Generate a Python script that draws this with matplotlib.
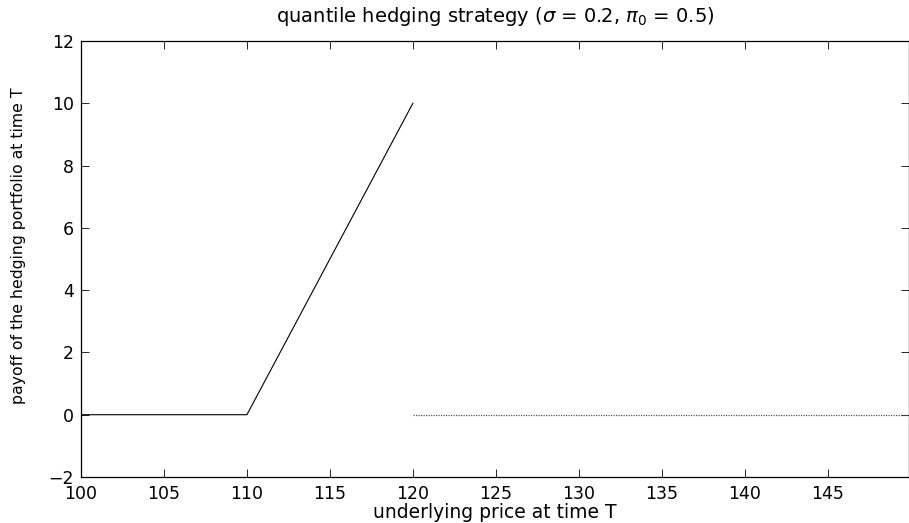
#!/usr/bin/env python3
"""Quantile hedging payoff chart."""

import matplotlib

matplotlib.use("Agg")
import matplotlib.pyplot as plt

# payoff of the hedging portfolio (solid part)
price_solid = [100, 110, 120]
payoff_solid = [0, 0, 10]

# dotted part beyond the upper strike
price_dotted = [120, 150]
payoff_dotted = [0, 0]

x_ticks = [100, 105, 110, 115, 120, 125, 130, 135, 140, 145]
y_ticks = [-2, 0, 2, 4, 6, 8, 10, 12]

plt.rcParams["font.family"] = ["DejaVu Sans"]
plt.rcParams["mathtext.fontset"] = "dejavusans"

fig = plt.figure(figsize=(9.09, 5.23), dpi=100)
ax = fig.add_axes([81 / 909, 1 - 477 / 523, (909 - 81) / 909, (477 - 41) / 523])

ax.plot(price_solid, payoff_solid, color="black", linewidth=0.8)
ax.plot(price_dotted, payoff_dotted, color="#555555", linewidth=0.9,
        linestyle=(0, (1, 1)))

ax.set_xlim(100, 149.9)
ax.set_ylim(-2, 12)
ax.set_xticks(x_ticks)
ax.set_yticks(y_ticks)
ax.tick_params(direction="in", length=5.5, width=0.6, top=True, right=True,
               labelsize=12.5, pad=5)
ax.tick_params(axis="x", pad=6)
for spine in ax.spines.values():
    spine.set_linewidth(0.9)

ax.set_title(r"quantile hedging strategy ($\sigma$ = 0.2, $\pi_0$ = 0.5)",
             fontsize=14, pad=14)
ax.set_xlabel("underlying price at time T", fontsize=13.5, labelpad=-0.5)
ax.set_ylabel("payoff of the hedging portfolio at time T", fontsize=11.3)
ax.yaxis.set_label_coords(-0.066, 0.53)

fig.savefig("out.png", dpi=100)
